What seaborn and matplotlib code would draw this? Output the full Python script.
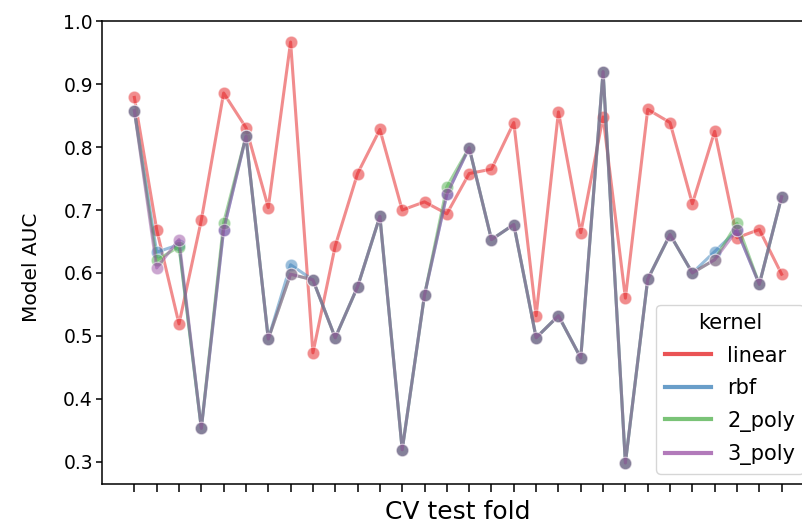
import numpy as np
import pandas as pd
import matplotlib
matplotlib.use("Agg")
import matplotlib.pyplot as plt
import seaborn as sns

# Cross-validation AUC per test fold for each SVM kernel
folds = list(range(30))
kernels = ["linear", "rbf", "2_poly", "3_poly"]

auc_linear = [0.879, 0.669, 0.519, 0.684, 0.886, 0.831, 0.704, 0.967, 0.473, 0.643,
              0.758, 0.828, 0.700, 0.713, 0.694, 0.758, 0.765, 0.839, 0.532, 0.856,
              0.664, 0.848, 0.560, 0.860, 0.839, 0.710, 0.825, 0.656, 0.669, 0.598]
auc_rbf = [0.858, 0.633, 0.645, 0.353, 0.669, 0.817, 0.495, 0.613, 0.589, 0.497,
           0.578, 0.690, 0.319, 0.565, 0.725, 0.799, 0.653, 0.677, 0.497, 0.532,
           0.465, 0.920, 0.298, 0.590, 0.661, 0.600, 0.634, 0.668, 0.582, 0.721]
auc_2_poly = [0.858, 0.620, 0.642, 0.353, 0.680, 0.817, 0.495, 0.598, 0.589, 0.497,
              0.578, 0.690, 0.319, 0.565, 0.737, 0.799, 0.653, 0.677, 0.497, 0.532,
              0.465, 0.920, 0.298, 0.590, 0.661, 0.600, 0.621, 0.679, 0.582, 0.721]
auc_3_poly = [0.858, 0.608, 0.653, 0.353, 0.669, 0.817, 0.495, 0.598, 0.589, 0.497,
              0.578, 0.690, 0.319, 0.565, 0.725, 0.799, 0.653, 0.677, 0.497, 0.532,
              0.465, 0.920, 0.298, 0.590, 0.661, 0.600, 0.621, 0.668, 0.582, 0.721]

series = [auc_linear, auc_rbf, auc_2_poly, auc_3_poly]
df = pd.DataFrame({
    "fold": np.tile(folds, len(kernels)),
    "auc": np.concatenate(series),
    "kernel": np.repeat(kernels, len(folds)),
})

plt.rcParams["font.family"] = ["DejaVu Sans"]

fig = plt.figure(figsize=(8.03, 5.30), dpi=100)
ax = fig.add_axes([102 / 803, 46 / 530, 712 / 803, 463 / 530])

sns.lineplot(data=df, x="fold", y="auc", hue="kernel", hue_order=kernels,
             palette="Set1", marker="o", markersize=9, linewidth=2.2,
             alpha=0.5, ax=ax)

ax.set_xticks(folds)
ax.set_xticklabels([""] * len(folds))
ax.set_yticks([0.3, 0.4, 0.5, 0.6, 0.7, 0.8, 0.9, 1.0])
ax.tick_params(axis="x", length=6, width=1.1)
ax.tick_params(axis="y", length=4, width=1.1, pad=2.5, labelsize=13.5)
for sp in ax.spines.values():
    sp.set_linewidth(1.1)

ax.set_xlabel("CV test fold", fontsize=18, labelpad=2)
ax.set_ylabel("Model AUC", fontsize=14.5)
ax.yaxis.set_label_coords(-0.085, 0.467)

leg = ax.legend(title="kernel", loc="lower right", fontsize=15, title_fontsize=15,
                handlelength=2.2, labelspacing=0.6, borderaxespad=0.5)
for h in leg.get_lines():
    h.set_marker("")
    h.set_linewidth(3)
    h.set_alpha(0.75)

fig.savefig("out.png", dpi=100)
